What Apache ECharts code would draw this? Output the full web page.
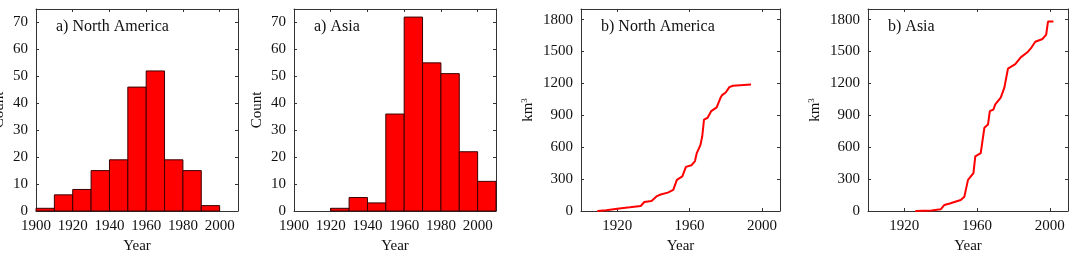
<!DOCTYPE html>
<html>
<head>
<meta charset="utf-8">
<script src="https://cdn.jsdelivr.net/npm/echarts@6/dist/echarts.min.js"></script>
<style>
  html, body { margin: 0; padding: 0; background: #fff; }
  #chart { width: 1075px; height: 260px; }
</style>
</head>
<body>
<div id="chart"></div>
<script>
// Histogram bins (start year of each 10-year bin)
const binStarts = [1900, 1910, 1920, 1930, 1940, 1950, 1960, 1970, 1980, 1990, 2000];
const countNorthAmerica = [1, 6, 8, 15, 19, 46, 52, 19, 15, 2, 0];
const countAsia = [0, 0, 1, 5, 3, 36, 72, 55, 51, 22, 11];

// Cumulative reservoir volume (km3)
const naYears = [1909, 1914, 1920, 1927, 1933, 1935, 1939, 1942, 1944, 1948, 1951, 1953, 1956, 1958, 1961, 1963, 1964, 1966, 1967, 1968, 1970, 1972, 1975, 1977, 1978, 1980, 1982, 1984, 1994];
const naVolume = [0, 8, 22, 35, 47, 85, 95, 140, 155, 173, 199, 293, 325, 415, 430, 470, 545, 620, 700, 860, 877, 940, 975, 1060, 1090, 1115, 1165, 1178, 1190];
const asiaYears = [1926, 1935, 1940, 1942, 1945, 1951, 1953, 1955, 1958, 1959, 1962, 1964, 1966, 1967, 1969, 1970, 1973, 1975, 1977, 1981, 1984, 1988, 1990, 1992, 1996, 1998, 1999, 2002];
const asiaVolume = [0, 5, 16, 57, 70, 104, 135, 293, 357, 514, 545, 782, 813, 940, 955, 1003, 1066, 1161, 1340, 1381, 1445, 1498, 1540, 1592, 1618, 1660, 1782, 1782];

// Tick labels
const histYearTicks = [1900, 1920, 1940, 1960, 1980, 2000];
const volYearTicks = [1920, 1960, 2000];
const countTicks = [0, 10, 20, 30, 40, 50, 60, 70];
const volumeTicks = [0, 300, 600, 900, 1200, 1500, 1800];

const panelTitles = ['a) North America', 'a) Asia', 'b) North America', 'b) Asia'];

const FONT = 'Liberation Serif';
const AXIS_COLOR = '#333';

const grids = [
    { left: 36, top: 9, width: 202, height: 202, outerBoundsMode: 'none' },
    { left: 294, top: 9, width: 202, height: 202, outerBoundsMode: 'none' },
    { left: 581, top: 9, width: 199, height: 202, outerBoundsMode: 'none' },
    { left: 868, top: 9, width: 200, height: 202, outerBoundsMode: 'none' }
];

function zip(xs, ys) {
    return xs.map((x, i) => [x, ys[i]]);
}

function makeXAxis(gridIndex, ticks, position) {
    const main = position === 'bottom';
    return {
        type: 'value',
        gridIndex: gridIndex,
        position: position,
        min: 1900,
        max: 2010,
        name: main ? 'Year' : '',
        nameLocation: 'middle',
        nameGap: 27,
        nameTextStyle: { fontFamily: FONT, fontSize: 15, color: '#111' },
        axisLine: { show: true, onZero: false, lineStyle: { color: AXIS_COLOR, width: 1 } },
        axisTick: { show: true, inside: true, length: 3, customValues: ticks, lineStyle: { color: AXIS_COLOR } },
        axisLabel: {
            show: main, customValues: ticks, margin: 8,
            formatter: v => String(v),
            fontFamily: FONT, fontSize: 15, color: '#111'
        },
        splitLine: { show: false }
    };
}

function makeYAxis(gridIndex, max, ticks, name, gap, position) {
    const main = position === 'left';
    return {
        type: 'value',
        gridIndex: gridIndex,
        position: position,
        min: 0,
        max: max,
        name: main ? name : '',
        nameLocation: 'middle',
        nameGap: gap,
        nameRotate: 90,
        nameTextStyle: {
            fontFamily: FONT, fontSize: 15, color: '#111',
            rich: {
                n: { fontFamily: FONT, fontSize: 15, color: '#111' },
                sup: { fontFamily: FONT, fontSize: 9, color: '#111', verticalAlign: 'top', padding: [0, 0, 8, 0] }
            }
        },
        axisLine: { show: true, onZero: false, lineStyle: { color: AXIS_COLOR, width: 1 } },
        axisTick: { show: true, inside: true, length: 3, customValues: ticks, lineStyle: { color: AXIS_COLOR } },
        axisLabel: {
            show: main, customValues: ticks, margin: 8,
            formatter: v => String(v),
            fontFamily: FONT, fontSize: 15, color: '#111'
        },
        splitLine: { show: false }
    };
}

function histSeries(axisIndex, counts) {
    return {
        type: 'custom',
        xAxisIndex: axisIndex,
        yAxisIndex: axisIndex,
        data: binStarts.map((s, i) => [s, s + 10, counts[i]]),
        renderItem: function (params, api) {
            if (api.value(2) <= 0) return null;
            const p0 = api.coord([api.value(0), 0]);
            const p1 = api.coord([api.value(1), api.value(2)]);
            return {
                type: 'rect',
                shape: { x: p0[0], y: p1[1], width: p1[0] - p0[0], height: p0[1] - p1[1] },
                style: { fill: '#ff0000', stroke: '#3a0000', lineWidth: 1 }
            };
        }
    };
}

function lineSeries(axisIndex, xs, ys) {
    return {
        type: 'line',
        xAxisIndex: axisIndex,
        yAxisIndex: axisIndex,
        data: zip(xs, ys),
        showSymbol: false,
        lineStyle: { color: '#ff0000', width: 2 },
        itemStyle: { color: '#ff0000' }
    };
}

const xAxes = [];
const yAxes = [];
const yConf = [
    [75, countTicks, 'Count', 29],
    [75, countTicks, 'Count', 29],
    [1900, volumeTicks, '{n|km}{sup|3}', 44],
    [1900, volumeTicks, '{n|km}{sup|3}', 44]
];
// main axes first (index 0-3), mirror axes after (index 4-7)
['bottom', 'top'].forEach(pos => {
    for (let g = 0; g < 4; g++) {
        xAxes.push(makeXAxis(g, g < 2 ? histYearTicks : volYearTicks, pos));
    }
});
['left', 'right'].forEach(pos => {
    for (let g = 0; g < 4; g++) {
        const c = yConf[g];
        yAxes.push(makeYAxis(g, c[0], c[1], c[2], c[3], pos));
    }
});

const chart = echarts.init(document.getElementById('chart'), null, { renderer: 'canvas' });

chart.setOption({
    animation: false,
    backgroundColor: '#fff',
    title: panelTitles.map((t, i) => ({
        text: t,
        left: grids[i].left + 20,
        top: 19,
        padding: 0,
        textStyle: { fontFamily: FONT, fontSize: 16, fontWeight: 'normal', color: '#111' }
    })),
    grid: grids,
    xAxis: xAxes,
    yAxis: yAxes,
    series: [
        histSeries(0, countNorthAmerica),
        histSeries(1, countAsia),
        lineSeries(2, naYears, naVolume),
        lineSeries(3, asiaYears, asiaVolume)
    ]
});
</script>
</body>
</html>
